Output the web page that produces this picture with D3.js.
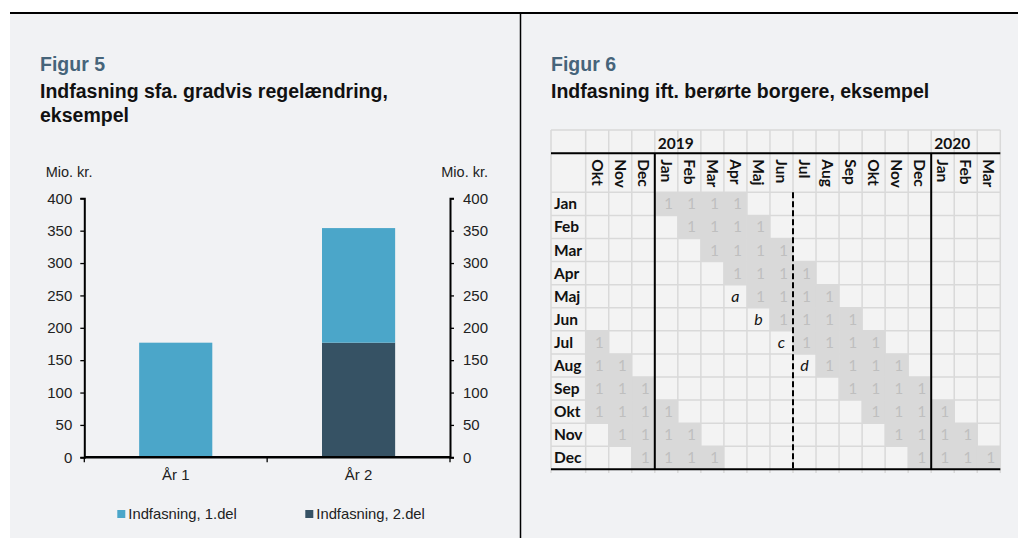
<!DOCTYPE html>
<html>
<head>
<meta charset="utf-8">
<script src="https://cdn.jsdelivr.net/npm/d3@7"></script>
<style>
  body { margin: 0; background: #fff; }
  text { font-family: "Liberation Sans", Arial, sans-serif; }
  .tbl text { font-family: Lato, "Open Sans", sans-serif; }
</style>
</head>
<body>
<svg width="1018" height="538"></svg>
<script>
// ---- Figur 5 data
var years = ["År 1", "År 2"];
var del1 = [177, 177];   // Indfasning, 1.del
var del2 = [0, 177];     // Indfasning, 2.del
var yTicks = [0, 50, 100, 150, 200, 250, 300, 350, 400];
var seriesNames = ["Indfasning, 1.del", "Indfasning, 2.del"];

// ---- Figur 6 data
var colMonths = ["Okt","Nov","Dec","Jan","Feb","Mar","Apr","Maj","Jun","Jul","Aug","Sep","Okt","Nov","Dec","Jan","Feb","Mar"];
var colYears  = ["","","","2019","","","","","","","","","","","","2020","",""];
var rowMonths = ["Jan","Feb","Mar","Apr","Maj","Jun","Jul","Aug","Sep","Okt","Nov","Dec"];
var cells = [
  "...1111...........",
  "....1111..........",
  ".....1111.........",
  "......1111........",
  "......a1111.......",
  ".......b1111......",
  "1.......c1111.....",
  "11.......d1111....",
  "111........1111...",
  "1111........1111..",
  ".1111........1111.",
  "..1111........1111"
];
var solidBreaks = [3, 15];  // year change before these columns
var dashedBreaks = [9];     // dashed divider before Jul 2019

var svg = d3.select("svg");

// panel background and frame
svg.append("rect").attr("x", 10).attr("y", 13).attr("width", 1008).attr("height", 525).attr("fill", "#f1f2f4");
svg.append("line").attr("x1", 10).attr("x2", 1018).attr("y1", 13).attr("y2", 13).attr("stroke", "#000").attr("stroke-width", 2);
svg.append("line").attr("x1", 520.5).attr("x2", 520.5).attr("y1", 13).attr("y2", 538).attr("stroke", "#000").attr("stroke-width", 1.5);

// titles
function title(x, fig, lines) {
  svg.append("text").attr("x", x).attr("y", 71).attr("font-size", 19.5).attr("font-weight", "bold")
    .attr("fill", "#46647a").text(fig);
  lines.forEach(function(t, i) {
    svg.append("text").attr("x", x).attr("y", 97.5 + i * 24.5).attr("font-size", 19.5).attr("font-weight", "bold")
      .attr("fill", "#111").text(t);
  });
}
title(40, "Figur 5", ["Indfasning sfa. gradvis regelændring,", "eksempel"]);
title(551, "Figur 6", ["Indfasning ift. berørte borgere, eksempel"]);

// ================= Figur 5 : stacked bars
var x = d3.scaleBand().domain(years).range([84.3, 450]).paddingInner(0.6).paddingOuter(0.3);
var y = d3.scaleLinear().domain([0, 400]).range([457.3, 198.3]);

var c1 = "#4ba6c9", c2 = "#365264";
var g5 = svg.append("g");

g5.selectAll("rect.d2").data(years).enter().append("rect")
  .attr("x", function(d) { return x(d); })
  .attr("width", x.bandwidth())
  .attr("y", function(d, i) { return y(del2[i]); })
  .attr("height", function(d, i) { return y(0) - y(del2[i]); })
  .attr("fill", c2);
g5.selectAll("rect.d1").data(years).enter().append("rect")
  .attr("x", function(d) { return x(d); })
  .attr("width", x.bandwidth())
  .attr("y", function(d, i) { return y(del2[i] + del1[i]); })
  .attr("height", function(d, i) { return y(del2[i]) - y(del2[i] + del1[i]); })
  .attr("fill", c1);

var axL = g5.append("g").attr("transform", "translate(84.3,0)")
  .call(d3.axisLeft(y).tickValues(yTicks).tickSize(4).tickPadding(8));
var axR = g5.append("g").attr("transform", "translate(450,0)")
  .call(d3.axisRight(y).tickValues(yTicks).tickSize(4).tickPadding(9));
[axL, axR].forEach(function(a) {
  a.select(".domain").attr("stroke-width", 2);
  a.selectAll(".tick line").attr("stroke-width", 1.3);
  a.selectAll("text").attr("font-size", 15).attr("fill", "#222").attr("font-family", "Liberation Sans, Arial, sans-serif");
});

// category axis
var axB = g5.append("g").attr("transform", "translate(0," + y(0) + ")")
  .call(d3.axisBottom(x).tickSize(0).tickPadding(12));
axB.select(".domain").remove();
axB.selectAll("text").attr("font-size", 15).attr("fill", "#222").attr("font-family", "Liberation Sans, Arial, sans-serif");
axB.append("line").attr("x1", x.range()[0]).attr("x2", x.range()[1]).attr("stroke", "#000").attr("stroke-width", 2.5);
var bounds = [x.range()[0], (x(years[0]) + x.bandwidth() + x(years[1])) / 2, x.range()[1]];
axB.selectAll("line.b").data(bounds).enter().append("line")
  .attr("x1", function(d) { return d; }).attr("x2", function(d) { return d; })
  .attr("y1", 0).attr("y2", 5).attr("stroke", "#000").attr("stroke-width", 1.3);

g5.append("text").attr("x", 45.7).attr("y", 177).attr("font-size", 14.5).attr("fill", "#222").text("Mio. kr.");
g5.append("text").attr("x", 488).attr("y", 177).attr("font-size", 14.5).attr("fill", "#222").attr("text-anchor", "end").text("Mio. kr.");

// legend
var legX = [117.3, 305.3];
seriesNames.forEach(function(n, i) {
  g5.append("rect").attr("x", legX[i]).attr("y", 510).attr("width", 8).attr("height", 8).attr("fill", i === 0 ? c1 : c2);
  g5.append("text").attr("x", legX[i] + 11).attr("y", 518.5).attr("font-size", 14.8).attr("fill", "#222").text(n);
});

// ================= Figur 6 : table
var g6 = svg.append("g").attr("class", "tbl");
var left = 551, labelW = 34.7;
var cx = d3.scaleBand().domain(d3.range(colMonths.length)).range([left + labelW, 1000.3]);
var ry = d3.scaleBand().domain(d3.range(rowMonths.length)).range([192.3, 469.3]);
var top0 = 130, head1 = 153.3;
var gridC = "#d9d9d9";

// cell backgrounds
g6.append("rect").attr("x", left).attr("y", top0).attr("width", 1000.3 - left).attr("height", 469.3 - top0).attr("fill", "#f3f3f3");

// shaded cells
var flat = [];
cells.forEach(function(row, r) {
  row.split("").forEach(function(ch, c) { flat.push({ r: r, c: c, v: ch }); });
});
g6.selectAll("rect.sh").data(flat.filter(function(d) { return d.v === "1"; })).enter().append("rect")
  .attr("x", function(d) { return cx(d.c); }).attr("y", function(d) { return ry(d.r); })
  .attr("width", cx.bandwidth()).attr("height", ry.bandwidth()).attr("fill", "#d9d9d9");

// grid lines
var vx = [left].concat(cx.domain().map(function(c) { return cx(c); })).concat([cx.range()[1]]);
g6.selectAll("line.v").data(vx).enter().append("line")
  .attr("x1", function(d) { return d; }).attr("x2", function(d) { return d; })
  .attr("y1", top0).attr("y2", 473).attr("stroke", gridC).attr("stroke-width", 1.5);
var hy = [top0, head1].concat(ry.domain().map(function(r) { return ry(r); }));
g6.selectAll("line.h").data(hy).enter().append("line")
  .attr("x1", left).attr("x2", cx.range()[1])
  .attr("y1", function(d) { return d; }).attr("y2", function(d) { return d; })
  .attr("stroke", gridC).attr("stroke-width", 1.5);

// cell texts
g6.selectAll("text.one").data(flat.filter(function(d) { return d.v === "1"; })).enter().append("text")
  .attr("x", function(d) { return cx(d.c) + cx.bandwidth() - 5; })
  .attr("y", function(d) { return ry(d.r) + ry.bandwidth() / 2 + 5.5; })
  .attr("text-anchor", "end").attr("font-size", 15).attr("fill", "#bfbfbf").text("1");
g6.selectAll("text.lt").data(flat.filter(function(d) { return /[a-d]/.test(d.v); })).enter().append("text")
  .attr("x", function(d) { return cx(d.c) + cx.bandwidth() / 2; })
  .attr("y", function(d) { return ry(d.r) + ry.bandwidth() / 2 + 5.5; })
  .attr("text-anchor", "middle").attr("font-size", 16).attr("font-style", "italic").attr("fill", "#111")
  .text(function(d) { return d.v; });

// row labels
g6.selectAll("text.rl").data(rowMonths).enter().append("text")
  .attr("x", left + 3).attr("y", function(d, i) { return ry(i) + ry.bandwidth() / 2 + 5.5; })
  .attr("font-size", 15.5).attr("font-weight", "bold").attr("fill", "#111").text(function(d) { return d; });

// year labels
g6.selectAll("text.yr").data(colYears).enter().append("text")
  .attr("x", function(d, i) { return cx(i) + 3; }).attr("y", 148.5)
  .attr("font-size", 15.5).attr("font-weight", "bold").attr("fill", "#111").text(function(d) { return d; });

// rotated month headers
g6.selectAll("text.cm").data(colMonths).enter().append("text")
  .attr("transform", function(d, i) { return "translate(" + (cx(i) + cx.bandwidth() / 2) + "," + (head1 + 6) + ") rotate(90)"; })
  .attr("dy", "0.35em").attr("font-size", 15.5).attr("font-weight", "bold").attr("fill", "#111")
  .text(function(d) { return d; });

// black rules
g6.append("line").attr("x1", left).attr("x2", cx.range()[1]).attr("y1", head1).attr("y2", head1).attr("stroke", "#000").attr("stroke-width", 2);
g6.append("line").attr("x1", left).attr("x2", cx.range()[1]).attr("y1", 469.3).attr("y2", 469.3).attr("stroke", "#000").attr("stroke-width", 2);
g6.selectAll("line.sb").data(solidBreaks).enter().append("line")
  .attr("x1", function(d) { return cx(d); }).attr("x2", function(d) { return cx(d); })
  .attr("y1", head1).attr("y2", 469.3).attr("stroke", "#000").attr("stroke-width", 2);
g6.selectAll("line.db").data(dashedBreaks).enter().append("line")
  .attr("x1", function(d) { return cx(d); }).attr("x2", function(d) { return cx(d); })
  .attr("y1", 192.3).attr("y2", 469.3).attr("stroke", "#000").attr("stroke-width", 2)
  .attr("stroke-dasharray", "6,3");
</script>
</body>
</html>
